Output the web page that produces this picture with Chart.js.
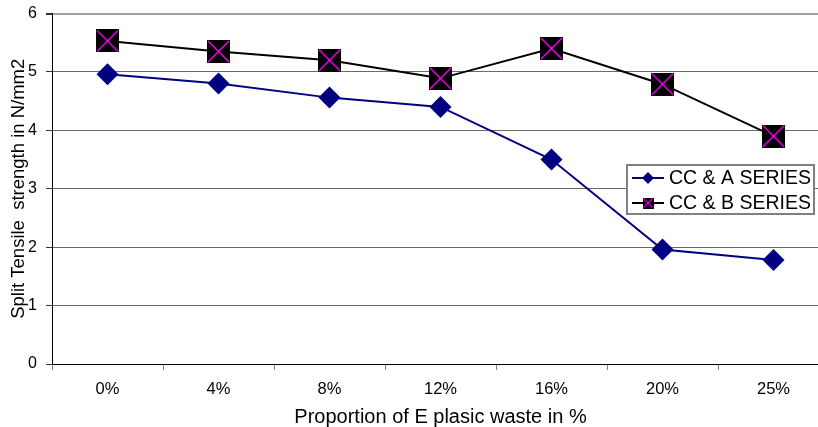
<!DOCTYPE html>
<html>
<head>
<meta charset="utf-8">
<script src="https://cdn.jsdelivr.net/npm/chart.js@4/dist/chart.umd.min.js"></script>
<style>
  html, body { margin: 0; padding: 0; background: #fff; overflow: hidden; width: 818px; height: 427px; }
  #wrap { position: relative; width: 818px; height: 427px; overflow: hidden; }
  canvas { display: block; }
</style>
</head>
<body>
<div id="wrap"><canvas id="c" width="832" height="427" style="width:832px;height:427px"></canvas></div>
<script>
// ---- data ----
const categories = ['0%', '4%', '8%', '12%', '16%', '20%', '25%'];
const seriesNames = ['CC & A SERIES', 'CC & B SERIES'];
const seriesA = [4.96, 4.80, 4.56, 4.40, 3.50, 1.96, 1.78];
const seriesB = [5.53, 5.35, 5.20, 4.89, 5.40, 4.79, 3.90];
const yTicks = [0, 1, 2, 3, 4, 5, 6];
const xTitle = 'Proportion of E plasic waste in %';
const yTitle = 'Split Tensile  strength in N/mm2';

const FONT = "'Liberation Sans', Arial, sans-serif";

function makeCrossSquare(size) {
  const cv = document.createElement('canvas');
  cv.width = size; cv.height = size;
  const g = cv.getContext('2d');
  g.fillStyle = '#000';
  g.fillRect(0, 0, size, size);
  g.strokeStyle = '#ff00ff';
  g.lineWidth = size > 15 ? 1.4 : 1.1;
  g.beginPath();
  g.moveTo(1, 1); g.lineTo(size - 1, size - 1);
  g.moveTo(size - 1, 1); g.lineTo(1, size - 1);
  g.stroke();
  return cv;
}
const bigMarker = makeCrossSquare(23);
const smallMarker = makeCrossSquare(11);

function zeroPadding(scale) {
  scale.paddingTop = 0; scale.paddingBottom = 0;
  scale.paddingLeft = 0; scale.paddingRight = 0;
}

const legendBox = {
  id: 'legendBox',
  afterDraw(chart) {
    const ctx = chart.ctx;
    const x0 = 627, y0 = 165, w = 187, h = 49;
    ctx.save();
    ctx.fillStyle = '#fff';
    ctx.fillRect(x0, y0, w, h);
    ctx.strokeStyle = '#808080';
    ctx.lineWidth = 2;
    ctx.strokeRect(x0, y0, w, h);
    const rows = [178, 203];
    const ds = chart.data.datasets;
    ds.forEach((d, i) => {
      const y = rows[i];
      ctx.strokeStyle = d.borderColor;
      ctx.lineWidth = 2;
      ctx.beginPath();
      ctx.moveTo(632, y); ctx.lineTo(664, y);
      ctx.stroke();
      if (i === 0) {
        ctx.fillStyle = d.borderColor;
        ctx.beginPath();
        ctx.moveTo(648 - 6, y); ctx.lineTo(648, y - 6);
        ctx.lineTo(648 + 6, y); ctx.lineTo(648, y + 6);
        ctx.closePath(); ctx.fill();
      } else {
        ctx.drawImage(smallMarker, 648 - 5.5, y - 5.5);
      }
      ctx.fillStyle = '#000';
      ctx.font = '19.5px ' + FONT;
      ctx.textBaseline = 'middle';
      ctx.textAlign = 'left';
      ctx.fillText(d.label, 669, y + 1);
    });
    ctx.restore();
  }
};

new Chart(document.getElementById('c'), {
  type: 'line',
  data: {
    labels: categories,
    datasets: [
      {
        label: seriesNames[0],
        data: seriesA,
        borderColor: '#000080',
        backgroundColor: '#000080',
        borderWidth: 2,
        pointStyle: 'rectRot',
        pointRadius: 11,
        pointHoverRadius: 11,
        pointBackgroundColor: '#000080',
        pointBorderColor: '#000080',
        pointBorderWidth: 0,
        tension: 0,
        clip: false
      },
      {
        label: seriesNames[1],
        data: seriesB,
        borderColor: '#000000',
        backgroundColor: '#000000',
        borderWidth: 2,
        pointStyle: bigMarker,
        pointRadius: 12,
        pointHoverRadius: 12,
        tension: 0,
        clip: false
      }
    ]
  },
  options: {
    responsive: false,
    animation: false,
    events: [],
    layout: { autoPadding: false, padding: { left: 0, right: 3, top: 13.5, bottom: 0 } },
    plugins: {
      legend: { display: false },
      tooltip: { enabled: false }
    },
    scales: {
      x: {
        type: 'category',
        offset: true,
        grid: {
          offset: true,
          drawOnChartArea: false,
          drawTicks: true,
          tickLength: 6,
          tickColor: '#808080',
          tickWidth: 1
        },
        border: { display: true, color: '#000', width: 1 },
        ticks: {
          color: '#000',
          font: { family: FONT, size: 16.5 },
          padding: 10,
          maxRotation: 0,
          autoSkip: false
        },
        title: {
          display: true,
          text: xTitle,
          color: '#000',
          font: { family: FONT, size: 20, lineHeight: 1 },
          padding: { top: 0, bottom: 0 }
        },
        afterFit(scale) { scale.height = 63; zeroPadding(scale); }
      },
      y: {
        min: 0,
        max: 6,
        afterBuildTicks(scale) { scale.ticks = yTicks.map(v => ({ value: v })); },
        grid: {
          color: (c) => c.tick && c.tick.value === 6 ? '#a0a0a0' : '#6a6a6a',
          lineWidth: (c) => c.tick && c.tick.value === 6 ? 2 : 1,
          drawTicks: true,
          tickLength: 6,
          tickColor: '#333'
        },
        border: { display: true, color: '#000', width: 1 },
        ticks: {
          color: '#000',
          font: { family: FONT, size: 16 },
          padding: 9,
          callback: (v) => String(v)
        },
        title: {
          display: true,
          text: yTitle,
          color: '#000',
          font: { family: FONT, size: 18.5, lineHeight: 1 },
          padding: { top: 10, bottom: 0 }
        },
        afterFit(scale) { scale.width = 52; zeroPadding(scale); }
      }
    }
  },
  plugins: [legendBox]
});
</script>
</body>
</html>
